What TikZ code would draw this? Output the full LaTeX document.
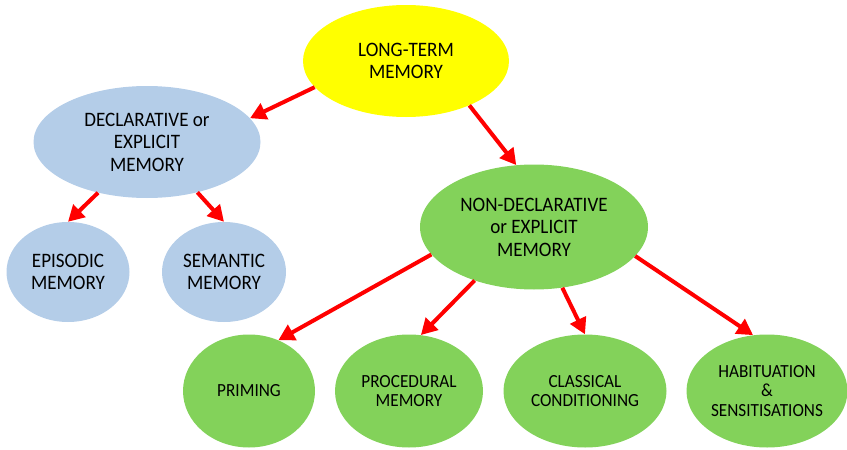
\documentclass[tikz,border=0pt]{standalone}
\usepackage{fontspec}
\setmainfont{Carlito}[FakeStretch=0.93]
\usetikzlibrary{shapes, arrows.meta}

\definecolor{ltmyellow}{RGB}{255,255,0}
\definecolor{declblue}{RGB}{180,205,232}
\definecolor{nondeclgreen}{RGB}{131,210,90}

\tikzset{
	memory/.style={ellipse, inner sep=0pt, align=center, text=black, font=\fontsize{20.5}{22.5}\selectfont},
	small memory/.style={memory, font=\fontsize{18.5}{19.5}\selectfont},
	link/.style={-{Triangle[length=16pt,width=17pt]}, red, line width=4pt},
}

\begin{document}
\begin{tikzpicture}[x=1pt, y=-1pt]
	\useasboundingbox (0,0) rectangle (847,450);

	% top
	\node[memory, fill=ltmyellow, minimum width=206, minimum height=112] (ltm) at (406,61) {LONG-TERM\\MEMORY};

	% declarative side
	\node[memory, fill=declblue, minimum width=227, minimum height=112] (decl) at (147,142) {DECLARATIVE or\\EXPLICIT\\MEMORY};
	\node[memory, fill=declblue, minimum width=123, minimum height=100] (epi) at (68,272) {EPISODIC\\MEMORY};
	\node[memory, fill=declblue, minimum width=124, minimum height=100] (sem) at (224,272) {SEMANTIC\\MEMORY};

	% non-declarative side
	\node[memory, fill=nondeclgreen, minimum width=228, minimum height=125] (nondecl) at (534,227) {NON-DECLARATIVE\\or EXPLICIT\\MEMORY};
	\foreach \name / \x / \w / \txt in {prim/249/132/PRIMING, proc/409/148/PROCEDURAL\\MEMORY, class/585/163/CLASSICAL\\CONDITIONING, habit/767/161/HABITUATION\\\&\\SENSITISATIONS}
	\node[small memory, fill=nondeclgreen, minimum width=\w, minimum height=113] (\name) at (\x,391) {\txt};

	% arrows
	\draw[link] (ltm.196) -- (decl.13);
	\draw[link] (ltm.325) -- (nondecl.106);
	\draw[link] (decl.226) -- (epi.north);
	\draw[link] (decl.315) -- (sem.north);
	\draw[link] (nondecl.195) -- (prim.60);
	\draw[link] (nondecl.222) -- (proc.78);
	\draw[link] (nondecl.295) -- (class.north);
	\draw[link] (nondecl.344) -- (habit.104);
\end{tikzpicture}
\end{document}
